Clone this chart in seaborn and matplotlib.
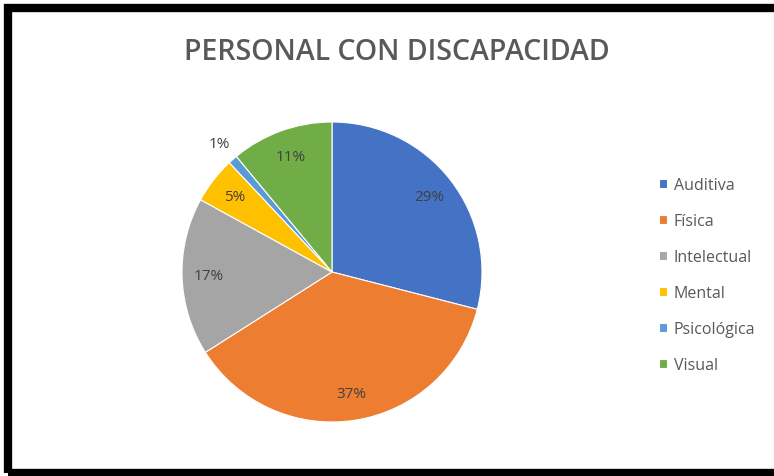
import matplotlib
matplotlib.use("Agg")
import matplotlib.pyplot as plt
import numpy as np
import seaborn as sns
from matplotlib.patches import Rectangle

categories = ["Auditiva", "Física", "Intelectual", "Mental", "Psicológica", "Visual"]
shares = [29, 37, 17, 5, 1, 11]
slice_colors = ["#4472C4", "#ED7D31", "#A5A5A5", "#FFC000", "#5B9BD5", "#70AD47"]
title = "PERSONAL CON DISCAPACIDAD"

sns.set_theme(style="white")
plt.rcParams["font.family"] = ["Open Sans", "DejaVu Sans"]
palette = sns.color_palette(slice_colors)

fig = plt.figure(figsize=(7.74, 4.77), dpi=100)
fig.patch.set_facecolor("white")

# pie axes: centre ~ (332, 273) px, radius ~150 px
W, H = 774, 477
cx, cy, r = 332, 273, 150
ax = fig.add_axes([(cx - r) / W, (H - cy - r) / H, 2 * r / W, 2 * r / H])

wedges, _ = ax.pie(
    shares,
    colors=palette,
    startangle=90,
    counterclock=False,
    wedgeprops=dict(linewidth=0.8, edgecolor="white"),
)
ax.set_xlim(-1, 1)
ax.set_ylim(-1, 1)
ax.set_aspect("equal")
ax.axis("off")

# percentage labels from wedge angles
for w, val in zip(wedges, shares):
    mid = np.deg2rad((w.theta1 + w.theta2) / 2)
    dist = 1.14 if val < 3 else 0.82
    ax.text(dist * np.cos(mid), dist * np.sin(mid), f"{val}%",
            ha="center", va="center", fontsize=11, color="#404040")

fig.text(397 / W, 1 - 53 / H, title, ha="center", va="center",
         fontsize=20.5, fontweight="semibold", color="#595959")

fig.legend(
    wedges, categories,
    loc="upper left",
    bbox_to_anchor=(645 / W, 1 - 164 / H),
    frameon=False,
    fontsize=11.5,
    labelcolor="#595959",
    handlelength=0.45,
    handleheight=0.45,
    handletextpad=0.45,
    labelspacing=1.25,
)

# black outer frame (open on the right side)
fig.add_artist(Rectangle((8 / W, 3 / H), 1.2, (H - 12) / H,
                         transform=fig.transFigure, fill=False,
                         edgecolor="black", linewidth=6, clip_on=False))

fig.savefig("out.png", dpi=100, facecolor="white")
